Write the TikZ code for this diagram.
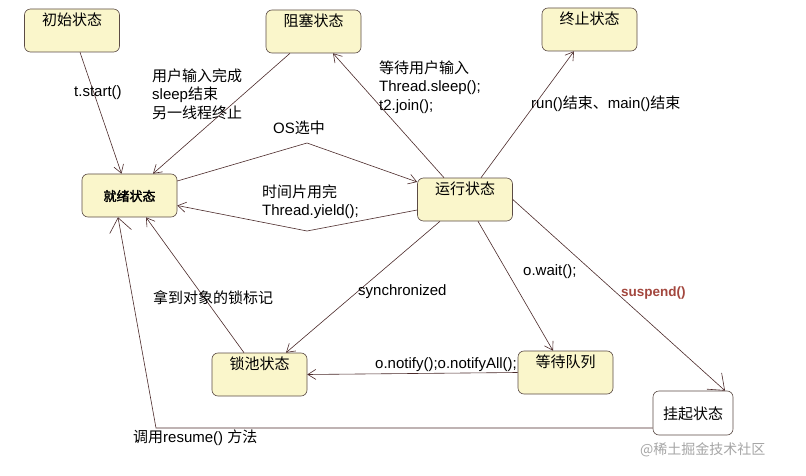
\documentclass[tikz,border=0pt]{standalone}
\usepackage{fontspec}
\setmainfont{Liberation Sans}
\newfontfamily\cjk{Noto Sans CJK SC}
\newfontfamily\cjkb[FakeBold=2]{Noto Sans CJK SC}
\usetikzlibrary{arrows.meta}
\definecolor{boxfill}{HTML}{FAF6CB}
\definecolor{boxline}{HTML}{5B4B45}
\definecolor{arrline}{HTML}{4B2A2A}
\definecolor{susptxt}{HTML}{A3473E}

\begin{document}
\begin{tikzpicture}[x=1pt,y=-1pt,
    state/.style={draw=boxline, fill=boxfill, line width=0.6pt, rounded corners=6pt,
        minimum width=95pt, minimum height=43pt, inner sep=2pt, text depth=22pt,
        font=\fontsize{15}{18}\selectfont\cjk},
    arr/.style={draw=arrline, line width=0.6pt, -{Straight Barb[length=8pt,width=10pt]}},
    bigarr/.style={draw=arrline, line width=0.6pt, -{Straight Barb[length=14pt,width=22pt]}},
    lbl/.style={anchor=west, inner sep=0pt, align=left, font=\fontsize{15}{18.5}\selectfont}]
    \useasboundingbox[fill=white] (0,0) rectangle (806,476);

    % Etats
    \node[state] (init) at (72,30.5) {初始状态};
    \node[state] (block) at (313.5,31.5) {阻塞状态};
    \node[state] (term) at (589.5,29.5) {终止状态};
    \node[state, text depth=0pt, font=\fontsize{13}{15}\selectfont\cjkb] (ready) at (129.5,195.5) {就绪状态};
    \node[state] (run) at (465,199.5) {运行状态};
    \node[state] (lock) at (259.5,374.5) {锁池状态};
    \node[state] (wait) at (565.5,372.5) {等待队列};
    \node[state, fill=white, text depth=0pt, minimum width=80pt, minimum height=44pt] (susp) at (693,413) {挂起状态};

    % Points de passage
    \coordinate (osbend) at (307,143);
    \coordinate (ybend) at (307,231);
    \coordinate (rbend) at (156,428);

    % Transitions
    \draw[arr] ([xshift=8pt]init.south) -- ([xshift=-8pt]ready.north);
    \draw[arr] ([xshift=-23.5pt]block.south) -- ([xshift=23.5pt]ready.north);
    \draw[arr] ([xshift=-21pt]run.north) -- ([xshift=19.5pt]block.south);
    \draw[arr] ([xshift=16pt]run.north) -- ([xshift=-15.5pt]term.south);
    \draw[arr] ([yshift=14.5pt]ready.east) -- (osbend) -- ([yshift=17.5pt]run.west);
    \draw[arr] ([yshift=-10.5pt]run.west) -- (ybend) -- ([yshift=-10pt]ready.east);
    \draw[arr] ([xshift=-25pt]run.south) -- ([xshift=26.5pt]lock.north);
    \draw[arr] ([xshift=-15.5pt]lock.north) -- ([xshift=16.5pt]ready.south);
    \draw[arr] ([xshift=13pt]run.south) -- ([xshift=-12.5pt]wait.north);
    \draw[arr] (wait.west) -- (lock.east);
    \draw[bigarr] (run.east) -- ([xshift=32pt]susp.north);
    \draw[bigarr] ([yshift=-15pt]susp.west) -- (rbend) -- ([xshift=-11.5pt]ready.south);

    % Etiquettes
    \node[lbl] (lstart) at (74,93) {t.start()};
    \node[lbl] (lwake) at (152,94) {{\cjk 用户输入完成}\\sleep{\cjk 结束}\\{\cjk 另一线程终止}};
    \node[lbl] (lsleep) at (379,87) {{\cjk 等待用户输入}\\Thread.sleep();\\t2.join();};
    \node[lbl] (lend) at (531,104) {run(){\cjk 结束、}main(){\cjk 结束}};
    \node[lbl] (los) at (273,128) {OS{\cjk 选中}};
    \node[lbl] (lyield) at (262,201.5) {{\cjk 时间片用完}\\Thread.yield();};
    \node[lbl] (lsync) at (358,292) {synchronized};
    \node[lbl] (lmark) at (153,298) {\cjk 拿到对象的锁标记};
    \node[lbl] (lowait) at (523,272) {o.wait();};
    \node[lbl, text=susptxt, font=\fontsize{13.5}{15}\selectfont\bfseries] (lsusp) at (621,293) {suspend()};
    \node[lbl] (lnotify) at (375,365) {o.notify();o.notifyAll();};
    \node[lbl] (lresume) at (133,438) {{\cjk 调用}resume() {\cjk 方法}};

    % Filigrane
    \node[lbl, text=black!35, font=\fontsize{14}{16}\selectfont\cjk] (wm) at (640,450) {@稀土掘金技术社区};
\end{tikzpicture}
\end{document}
